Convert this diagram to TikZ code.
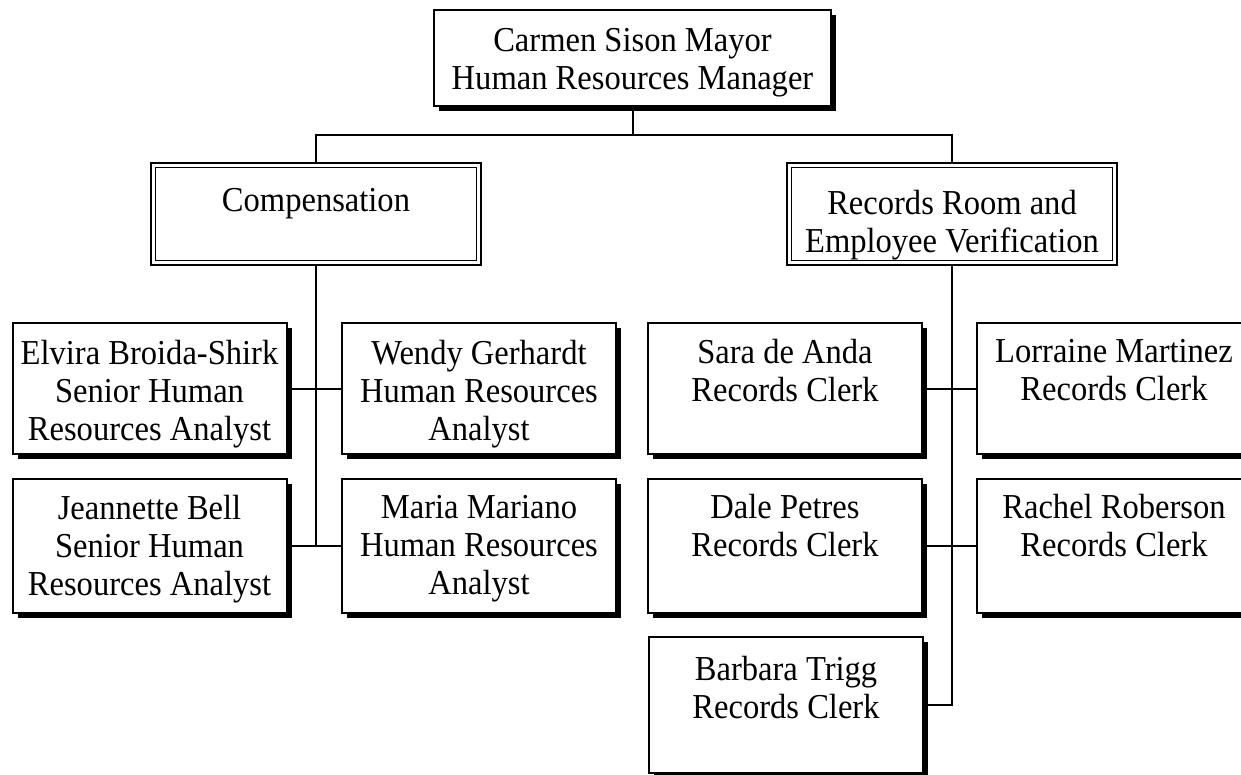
\documentclass[tikz,border=0pt]{standalone}
\usepackage{fontspec}
\setmainfont[FakeStretch=0.93]{Liberation Serif}
\usetikzlibrary{shadows}
\begin{document}
\begin{tikzpicture}[x=1pt,y=-1pt,
  every node/.style={inner sep=0pt, outer sep=0pt},
  box/.style={draw, line width=2pt, fill=white, minimum width=274pt,
    drop shadow={shadow xshift=5pt, shadow yshift=-5pt, fill=black, opacity=1}},
  dbox/.style={draw, line width=2.8pt, fill=white, minimum width=330pt, minimum height=102pt},
  inner/.style={line width=1.1pt},
  txt/.style={anchor=north, align=center, font=\fontsize{35}{38}\selectfont,
    execute at begin node={\rule{0pt}{26pt}}},
  conn/.style={line width=2pt}
]
\useasboundingbox (0,0) rectangle (1241,774);

% top
\node[box, minimum width=397pt, minimum height=96pt] (top) at (632.5,58) {};
\node[txt] (ttop) at (632.5,28) {Carmen Sison Mayor\\Human Resources Manager};

% departments
\node[dbox] (comp) at (316,214) {};
\draw[inner] ([xshift=4.5pt,yshift=-4.5pt]comp.north west) rectangle ([xshift=-4.5pt,yshift=4.5pt]comp.south east);
\node[txt] (tcomp) at (316,185) {Compensation};

\node[dbox] (rec) at (952,214) {};
\draw[inner] ([xshift=4.5pt,yshift=-4.5pt]rec.north west) rectangle ([xshift=-4.5pt,yshift=4.5pt]rec.south east);
\node[txt] (trec) at (952,190) {Records Room and\\Employee Verification};

% compensation staff
\node[box, minimum height=131pt] (elvira) at (149.5,388.5) {};
\node[txt] (telvira) at (149.5,340) {Elvira Broida-Shirk\\Senior Human\\Resources Analyst};
\node[box, minimum height=131pt] (wendy) at (479,388.5) {};
\node[txt] (twendy) at (479,340) {Wendy Gerhardt\\Human Resources\\Analyst};
\node[box, minimum height=134pt] (jeannette) at (149.5,546) {};
\node[txt] (tjeannette) at (149.5,495) {Jeannette Bell\\Senior Human\\Resources Analyst};
\node[box, minimum height=134pt] (maria) at (479,546) {};
\node[txt] (tmaria) at (479,495) {Maria Mariano\\Human Resources\\Analyst};

% records staff
\node[box, minimum height=131pt] (sara) at (785,388.5) {};
\node[txt] (tsara) at (785,339) {Sara de Anda\\Records Clerk};
\node[box, minimum height=131pt] (lorraine) at (1114,388.5) {};
\node[txt] (tlorraine) at (1114,339) {Lorraine Martinez\\Records Clerk};
\node[box, minimum height=134pt] (dale) at (785,546) {};
\node[txt] (tdale) at (785,494) {Dale Petres\\Records Clerk};
\node[box, minimum height=134pt] (rachel) at (1114,546) {};
\node[txt] (trachel) at (1114,494) {Rachel Roberson\\Records Clerk};
\node[box, minimum height=136pt] (barbara) at (786,705) {};
\node[txt] (tbarbara) at (786,656) {Barbara Trigg\\Records Clerk};

% connectors
\draw[conn] (top.south) -- ++(0,29) coordinate (bus);
\draw[conn] (bus) -| (comp.north);
\draw[conn] (bus) -| (rec.north);
\draw[conn] (comp.south) -- (comp.south |- maria.west);
\draw[conn] (elvira.east) -- (wendy.west);
\draw[conn] (jeannette.east) -- (maria.west);
\draw[conn] (rec.south) |- (barbara.east);
\draw[conn] (sara.east) -- (lorraine.west);
\draw[conn] (dale.east) -- (rachel.west);
\end{tikzpicture}
\end{document}
